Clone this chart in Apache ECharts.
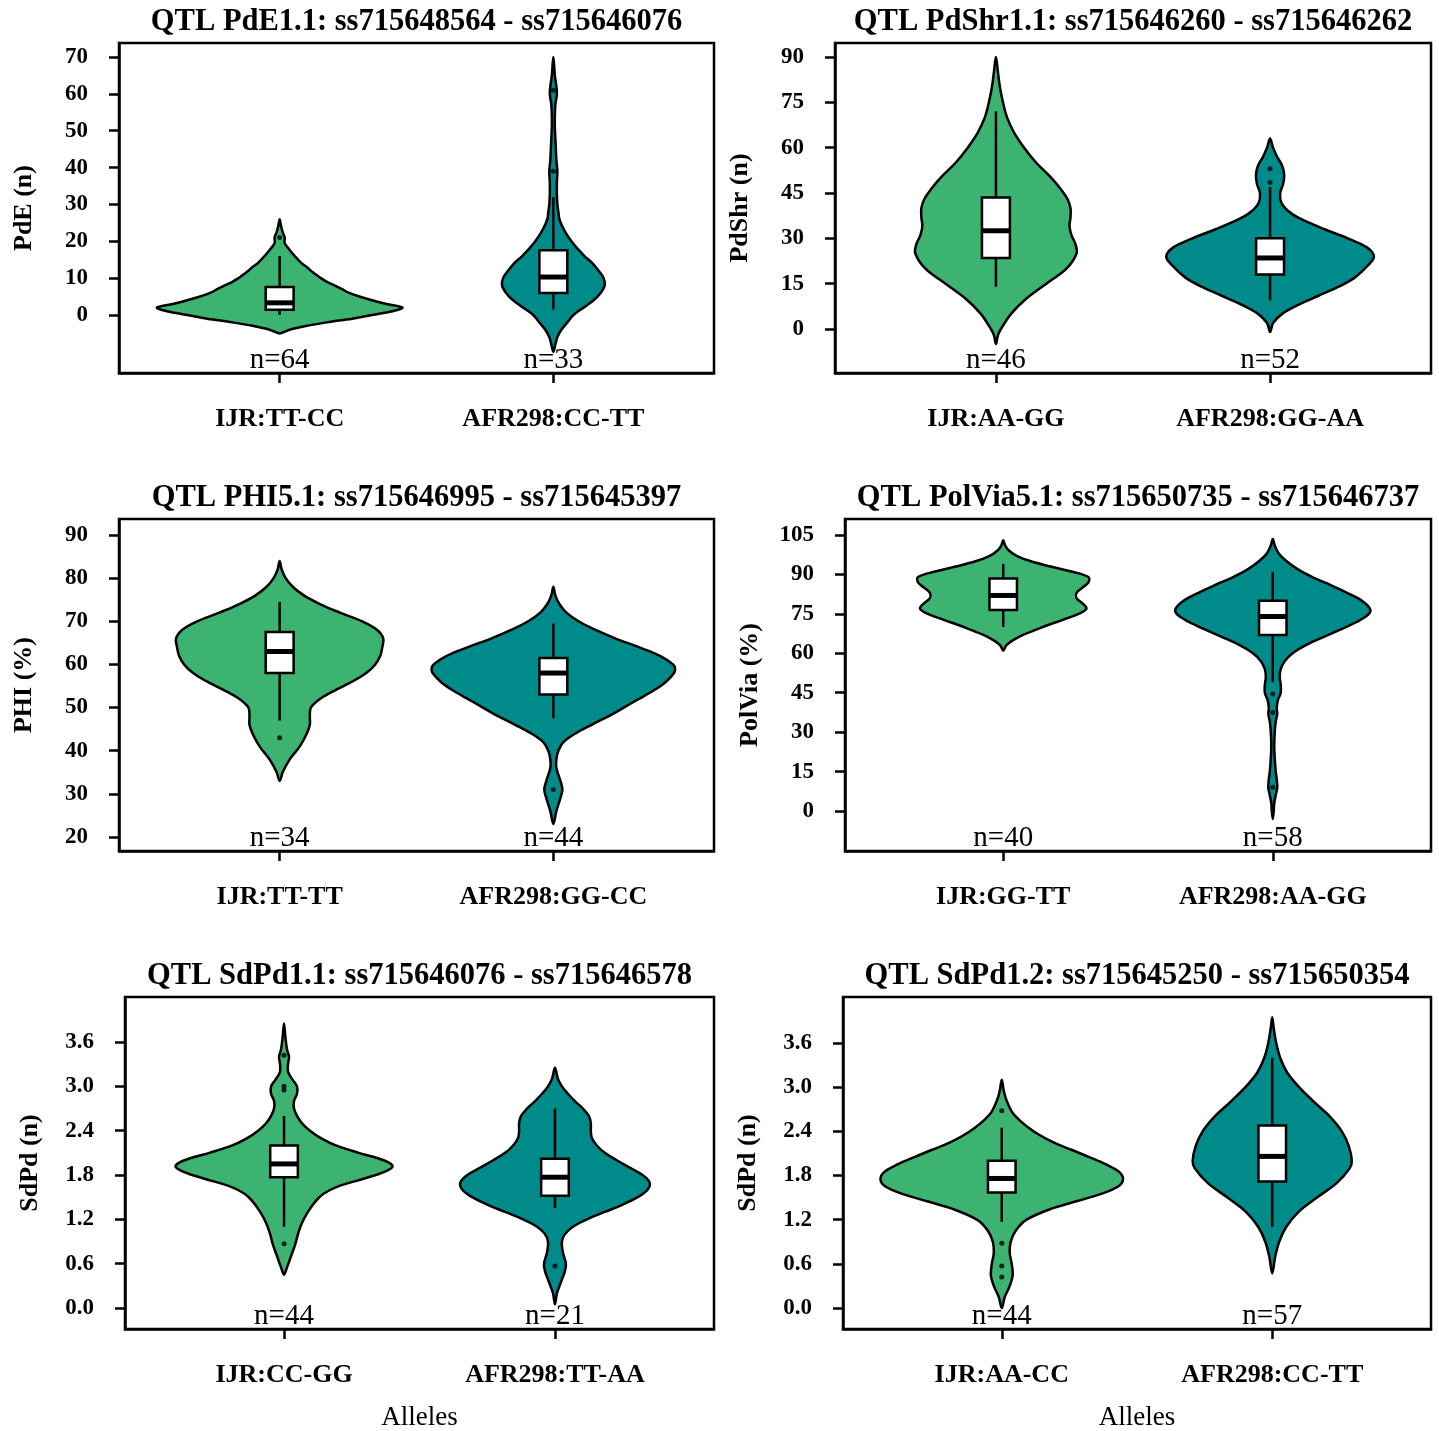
<!DOCTYPE html>
<html>
<head>
<meta charset="utf-8">
<script src="https://cdn.jsdelivr.net/npm/echarts@6/dist/echarts.min.js"></script>
<style>
  html, body { margin: 0; padding: 0; background: #fff; }
  #main { width: 1439px; height: 1431px; }
</style>
</head>
<body>
<div id="main"></div>
<script>
// 各面板标题、轴名、类别
var titles = [
  'QTL PdE1.1: ss715648564 - ss715646076',
  'QTL PdShr1.1: ss715646260 - ss715646262',
  'QTL PHI5.1: ss715646995 - ss715645397',
  'QTL PolVia5.1: ss715650735 - ss715646737',
  'QTL SdPd1.1: ss715646076 - ss715646578',
  'QTL SdPd1.2: ss715645250 - ss715650354'
];
var yNames = ['PdE (n)', 'PdShr (n)', 'PHI (%)', 'PolVia (%)', 'SdPd (n)', 'SdPd (n)'];
var alleles = [
  ['IJR:TT-CC', 'AFR298:CC-TT'],
  ['IJR:AA-GG', 'AFR298:GG-AA'],
  ['IJR:TT-TT', 'AFR298:GG-CC'],
  ['IJR:GG-TT', 'AFR298:AA-GG'],
  ['IJR:CC-GG', 'AFR298:TT-AA'],
  ['IJR:AA-CC', 'AFR298:CC-TT']
];
var counts = [[64, 33], [46, 52], [34, 44], [40, 58], [44, 21], [44, 57]];
var yTicks = [
  [0, 10, 20, 30, 40, 50, 60, 70],
  [0, 15, 30, 45, 60, 75, 90],
  [20, 30, 40, 50, 60, 70, 80, 90],
  [0, 15, 30, 45, 60, 75, 90, 105],
  [0, 0.6, 1.2, 1.8, 2.4, 3.0, 3.6],
  [0, 0.6, 1.2, 1.8, 2.4, 3.0, 3.6]
];
var yRanges = [[-15.74, 73.8], [-14.56, 94.63], [16.75, 93.71], [-15.22, 111.09], [-0.284, 4.209], [-0.285, 4.225]];

// 小提琴轮廓: [值, 密度半宽]
var pdeIJR = [[-5, 0], [-4, 10], [-3, 26], [-2, 47], [-1, 72], [0, 92], [1, 112], [2, 122], [3, 106], [4, 92],
  [5, 79], [6, 69], [7, 62], [8, 55], [9, 47], [10, 41], [11, 36], [12, 31], [13, 27], [14, 22], [16, 15], [18, 9],
  [19.5, 5], [21, 5], [22.5, 3], [24, 1.5], [26, 0]];
var pdeAFR = [[-10, 0], [-8, 2], [-6, 4], [-4, 8], [-2, 14], [0, 20], [2, 30], [4, 40], [6, 47], [8, 51], [10, 50],
  [12, 45], [14, 39], [16, 31], [18, 24], [20, 18], [22, 13], [24, 9], [26, 6], [28, 5], [30, 4], [33, 3.5], [36, 3.5],
  [39, 4], [42, 3], [45, 2.5], [48, 2], [51, 1.5], [54, 1.5], [57, 2], [60, 3.5], [62, 3], [65, 1.5], [70, 0]];
var pdshrIJR = [[-5, 0], [-2, 2], [0, 5], [5, 15], [10, 30], [15, 50], [20, 70], [25, 80], [28, 79], [31, 75],
  [34, 73], [37, 74], [40, 74], [43, 71], [46, 65], [50, 55], [55, 40], [60, 28], [65, 18], [70, 11], [75, 7],
  [80, 4], [85, 2], [90, 0]];
var pdshrAFR = [[-1, 0], [2, 3], [5, 12], [8, 28], [11, 48], [14, 68], [17, 84], [21, 97], [24, 103], [27, 96],
  [30, 77], [33, 54], [36, 33], [38, 22], [40, 15], [42, 11], [45, 10], [48, 13], [51, 14], [54, 12], [57, 7],
  [60, 3], [63, 0]];
var phiIJR = [[33, 0], [35, 3], [38, 10], [41, 20], [44, 27], [46, 30], [48, 30], [50, 31], [52, 40], [54, 55],
  [56, 72], [58, 86], [60, 95], [62, 100], [64, 102], [66, 103], [68, 97], [70, 82], [72, 60], [74, 40], [76, 24],
  [78, 13], [80, 6], [82, 2], [84, 0]];
var phiAFR = [[23, 0], [26, 3], [29, 7], [31, 9], [33, 7], [36, 3], [38, 3], [40, 5], [42, 10], [44, 22], [46, 38],
  [48, 55], [50, 70], [52, 85], [54, 100], [56, 112], [58, 120], [59, 121], [60, 119], [62, 106], [64, 85],
  [66, 62], [68, 42], [70, 25], [72, 13], [74, 6], [76, 2], [78, 0]];
var polviaIJR = [[61, 0], [63, 3], [65, 10], [67, 20], [70, 40], [73, 62], [75, 76], [77, 84], [79, 80], [81, 74],
  [83, 74], [85, 80], [87, 86], [89, 86], [91, 70], [93, 48], [95, 28], [97, 14], [99, 6], [101, 2], [103, 0]];
var polviaAFR = [[-3, 0], [0, 1], [3, 1.5], [6, 3], [9, 4.5], [12, 4], [15, 3], [20, 2], [25, 1.5], [30, 2], [34, 3],
  [37, 4.5], [39, 4], [42, 5], [45, 8], [48, 8], [51, 7], [54, 8], [57, 12], [60, 20], [63, 33], [66, 50], [69, 68],
  [72, 85], [75, 97], [77, 98], [80, 90], [83, 75], [86, 58], [89, 40], [92, 25], [95, 14], [98, 6], [101, 2], [103.5, 0]];
var sdpd1IJR = [[0.45, 0], [0.55, 3], [0.7, 7], [0.85, 11], [1.0, 14], [1.15, 18], [1.3, 24], [1.45, 32], [1.55, 40],
  [1.65, 55], [1.75, 80], [1.85, 102], [1.92, 109], [2.0, 100], [2.1, 75], [2.2, 52], [2.3, 37], [2.4, 26], [2.5, 18],
  [2.6, 13], [2.7, 10], [2.8, 10], [2.9, 13], [3.0, 13], [3.1, 8], [3.2, 4], [3.3, 4], [3.4, 5], [3.5, 3], [3.65, 1.5],
  [3.85, 0]];
var sdpd1AFR = [[0.05, 0], [0.2, 2], [0.35, 6], [0.5, 10], [0.6, 11], [0.75, 8], [0.9, 7], [1.0, 10], [1.1, 18],
  [1.2, 32], [1.3, 50], [1.4, 68], [1.5, 83], [1.6, 93], [1.7, 95], [1.8, 88], [1.9, 75], [2.0, 62], [2.1, 50],
  [2.2, 42], [2.3, 37], [2.4, 36], [2.5, 36], [2.6, 34], [2.7, 28], [2.8, 20], [2.9, 13], [3.0, 7], [3.1, 3], [3.25, 0]];
var sdpd2IJR = [[0.0, 0], [0.15, 3], [0.3, 8], [0.45, 11], [0.6, 10], [0.75, 8], [0.9, 9], [1.05, 14], [1.2, 25],
  [1.35, 50], [1.45, 75], [1.55, 100], [1.65, 117], [1.75, 122], [1.85, 118], [1.95, 105], [2.05, 88], [2.15, 70],
  [2.25, 52], [2.35, 38], [2.45, 27], [2.55, 18], [2.65, 11], [2.75, 7], [2.85, 4], [2.95, 2], [3.1, 0]];
var sdpd2AFR = [[0.47, 0], [0.7, 3], [0.9, 7], [1.1, 14], [1.3, 26], [1.5, 45], [1.7, 65], [1.9, 78], [2.0, 80],
  [2.2, 77], [2.4, 70], [2.6, 58], [2.8, 42], [3.0, 27], [3.2, 15], [3.4, 8], [3.6, 4], [3.8, 1.5], [3.95, 0]];
var violins = [
  [pdeIJR, pdeAFR], [pdshrIJR, pdshrAFR], [phiIJR, phiAFR],
  [polviaIJR, polviaAFR], [sdpd1IJR, sdpd1AFR], [sdpd2IJR, sdpd2AFR]
];

// 箱线: [下须, Q1, 中位数, Q3, 上须]
var boxes = [
  [[0, 1.4, 3.3, 7.6, 16], [1.5, 6, 10.3, 17.6, 32]],
  [[14, 23.5, 32.5, 43.5, 72], [9.5, 18, 23.5, 30, 47]],
  [[47, 58, 63, 67.5, 74.5], [47.5, 53, 58, 61.5, 69.5]],
  [[70, 76.5, 82, 88.5, 94], [49, 67, 74, 80, 91]],
  [[1.1, 1.77, 1.95, 2.2, 2.6], [1.35, 1.52, 1.77, 2.02, 2.7]],
  [[1.17, 1.57, 1.76, 2.0, 2.45], [1.1, 1.72, 2.06, 2.48, 3.4]]
];
// 离群点
var outliers = [
  [[21], [39, 61]],
  [[], [48.5, 53]],
  [[43], [31]],
  [[], [44.5, 37.5, 9]],
  [[0.87, 2.95, 3.0, 3.42], [0.57]],
  [[0.88, 0.57, 0.42, 2.68], []]
];

var grids = [
  { left: 119, top: 43, width: 595, height: 330 },
  { left: 835, top: 43, width: 596, height: 330 },
  { left: 119, top: 519, width: 595, height: 332 },
  { left: 845, top: 519, width: 586, height: 332 },
  { left: 125, top: 997, width: 589, height: 332 },
  { left: 843, top: 997, width: 588, height: 332 }
];
var colors = ['#3CB371', '#008B8B'];
var FONT = '"Liberation Serif", "Times New Roman", serif';
var K = 1 / 272;      // 密度 -> x 轴单位
var BOXW = 0.051;     // 箱体半宽
var XMIN = 0.413, XMAX = 2.587;

var myChart = echarts.init(document.getElementById('main'));

var option = {
  backgroundColor: '#fff',
  animation: false,
  grid: [],
  xAxis: [],
  yAxis: [],
  series: [],
  graphic: []
};

grids.forEach(function (g, i) {
  option.grid.push({
    left: g.left, top: g.top, width: g.width, height: g.height,
    show: true, borderColor: '#000', borderWidth: 2.5, backgroundColor: 'transparent'
  });
  option.xAxis.push({
    gridIndex: i, type: 'value', min: XMIN, max: XMAX, position: 'bottom',
    axisLine: { show: true, onZero: false, lineStyle: { color: '#000', width: 2.5 } },
    splitLine: { show: false },
    axisTick: { show: true, customValues: [1, 2], length: 10, lineStyle: { color: '#000', width: 2.5 } },
    axisLabel: {
      customValues: [1, 2], margin: 33, color: '#000',
      fontFamily: FONT, fontWeight: 'bold', fontSize: 26,
      formatter: function (v) { return alleles[i][Math.round(v) - 1]; }
    }
  });
  option.yAxis.push({
    gridIndex: i, type: 'value', min: yRanges[i][0], max: yRanges[i][1], position: 'left',
    name: yNames[i], nameLocation: 'middle', nameRotate: 90, nameGap: 82,
    nameTextStyle: { fontFamily: FONT, fontWeight: 'bold', fontSize: 26, color: '#000' },
    axisLine: { show: true, onZero: false, lineStyle: { color: '#000', width: 2.5 } },
    splitLine: { show: false },
    axisTick: { show: true, customValues: yTicks[i], length: 10, lineStyle: { color: '#000', width: 2.5 } },
    axisLabel: {
      customValues: yTicks[i], margin: 31, color: '#000',
      fontFamily: FONT, fontWeight: 'bold', fontSize: 23,
      formatter: function (v) { return i >= 4 ? v.toFixed(1) : String(Math.round(v)); }
    }
  });

  // 小提琴
  violins[i].forEach(function (prof, c) {
    var cat = c + 1;
    option.series.push({
      type: 'custom', xAxisIndex: i, yAxisIndex: i, data: [[cat]],
      renderItem: function (params, api) {
        var pts = [];
        prof.forEach(function (p) { pts.push(api.coord([cat + p[1] * K, p[0]])); });
        for (var j = prof.length - 2; j >= 1; j--) {
          pts.push(api.coord([cat - prof[j][1] * K, prof[j][0]]));
        }
        return {
          type: 'polygon', shape: { points: pts, smooth: 0.35 },
          style: { fill: colors[c], stroke: '#000', lineWidth: 2.5 }
        };
      },
      z: 2
    });
  });

  // 箱线
  boxes[i].forEach(function (b, c) {
    var cat = c + 1;
    option.series.push({
      type: 'custom', xAxisIndex: i, yAxisIndex: i, data: [b],
      renderItem: function (params, api) {
        var lo = api.coord([cat, b[0]]), q1 = api.coord([cat, b[1]]);
        var md = api.coord([cat, b[2]]), q3 = api.coord([cat, b[3]]);
        var hi = api.coord([cat, b[4]]);
        var l = api.coord([cat - BOXW, b[1]])[0], r = api.coord([cat + BOXW, b[1]])[0];
        var ls = { stroke: '#000', lineWidth: 2.5 };
        return {
          type: 'group', children: [
            { type: 'line', shape: { x1: lo[0], y1: lo[1], x2: hi[0], y2: hi[1] }, style: ls },
            { type: 'rect', shape: { x: l, y: q3[1], width: r - l, height: q1[1] - q3[1] },
              style: { fill: '#fff', stroke: '#000', lineWidth: 2.5 } },
            { type: 'line', shape: { x1: l, y1: md[1], x2: r, y2: md[1] }, style: { stroke: '#000', lineWidth: 5 } }
          ]
        };
      },
      z: 3
    });
  });

  // 离群点
  var pts = [];
  outliers[i].forEach(function (arr, c) { arr.forEach(function (v) { pts.push([c + 1, v]); }); });
  option.series.push({
    type: 'scatter', xAxisIndex: i, yAxisIndex: i, data: pts,
    symbolSize: 5, itemStyle: { color: '#000' }, z: 4
  });

  // n= 标注
  option.series.push({
    type: 'custom', xAxisIndex: i, yAxisIndex: i,
    data: counts[i].map(function (n, c) { return [c + 1, n]; }),
    renderItem: function (params, api) {
      var p = api.coord([api.value(0), yRanges[i][0]]);
      return {
        type: 'text', x: p[0], y: p[1] + 2,
        style: {
          text: 'n=' + api.value(1), textAlign: 'center', textVerticalAlign: 'bottom',
          font: '29px ' + FONT, fill: '#000'
        }
      };
    },
    z: 5
  });

  // 标题
  option.graphic.push({
    type: 'text', x: g.left + g.width / 2, y: g.top - 21,
    style: {
      text: titles[i], textAlign: 'center', textVerticalAlign: 'middle',
      font: 'bold 30.5px ' + FONT, fill: '#000'
    }
  });
});

// 底部 Alleles
[4, 5].forEach(function (i) {
  var g = grids[i];
  option.graphic.push({
    type: 'text', x: g.left + g.width / 2, y: 1418,
    style: { text: 'Alleles', textAlign: 'center', textVerticalAlign: 'middle', font: '27px ' + FONT, fill: '#000' }
  });
});

myChart.setOption(option);
</script>
</body>
</html>
